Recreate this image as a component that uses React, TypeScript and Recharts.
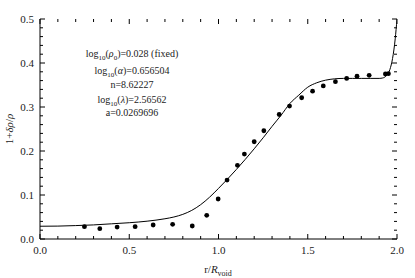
import React from 'react';
import { ComposedChart, Line, Scatter, XAxis, YAxis, ReferenceLine } from 'recharts';

const fitR = [0, 0.1, 0.2, 0.3, 0.4, 0.5, 0.6, 0.7, 0.75, 0.8, 0.85, 0.9, 0.95, 1.0, 1.05, 1.1, 1.15, 1.2, 1.25, 1.3, 1.35, 1.4, 1.45, 1.5, 1.55, 1.6, 1.65, 1.7, 1.75, 1.8, 1.85, 1.9, 1.92, 1.94, 1.96, 1.975, 1.99, 2.0];
const fitV = [0.029, 0.0293, 0.0305, 0.032, 0.0345, 0.037, 0.0405, 0.046, 0.05, 0.056, 0.065, 0.078, 0.095, 0.115, 0.136, 0.158, 0.181, 0.205, 0.23, 0.256, 0.281, 0.308, 0.327, 0.345, 0.355, 0.361, 0.364, 0.365, 0.365, 0.365, 0.365, 0.365, 0.366, 0.371, 0.385, 0.41, 0.455, 0.5];

const obsR = [0.249, 0.335, 0.432, 0.533, 0.634, 0.743, 0.853, 0.934, 0.998, 1.048, 1.106, 1.145, 1.2, 1.254, 1.34, 1.398, 1.466, 1.527, 1.587, 1.655, 1.718, 1.776, 1.844, 1.935, 1.952];
const obsV = [0.028, 0.0234, 0.027, 0.028, 0.0318, 0.0334, 0.0295, 0.0538, 0.0909, 0.134, 0.1675, 0.193, 0.221, 0.246, 0.283, 0.302, 0.321, 0.336, 0.348, 0.3575, 0.365, 0.37, 0.372, 0.375, 0.3757];

const xMinorTicks = [0, 0.1, 0.2, 0.3, 0.4, 0.5, 0.6, 0.7, 0.8, 0.9, 1.0, 1.1, 1.2, 1.3, 1.4, 1.5, 1.6, 1.7, 1.8, 1.9, 2.0];
const xMajorTicks = [0, 0.5, 1.0, 1.5, 2.0];
const yMinorTicks = [0, 0.02, 0.04, 0.06, 0.08, 0.1, 0.12, 0.14, 0.16, 0.18, 0.2, 0.22, 0.24, 0.26, 0.28, 0.3, 0.32, 0.34, 0.36, 0.38, 0.4, 0.42, 0.44, 0.46, 0.48, 0.5];
const yMajorTicks = [0, 0.1, 0.2, 0.3, 0.4, 0.5];

const X_MIN = 0;
const X_MAX = 2;
const Y_MIN = 0;
const Y_MAX = 0.5;

const fitData = fitR.map((r, i) => ({ r, v: fitV[i] }));
const obsData = obsR.map((r, i) => ({ r, v: obsV[i] }));

const FONT = '"Liberation Serif", "Times New Roman", serif';
const AX = { stroke: '#000', strokeWidth: 1 };

// tick lengths converted to axis units (plot area is 357 x 220 px)
const X_UNIT_PER_PX = (X_MAX - X_MIN) / 357;
const Y_UNIT_PER_PX = (Y_MAX - Y_MIN) / 220;
const MAJOR_LEN = 5;
const MINOR_LEN = 3;
const isMajor = (v: number, step: number) => Math.abs(v / step - Math.round(v / step)) < 1e-6;

const BottomLabel = (props: any) => (
  <text x={props.x} y={props.y + 15} textAnchor="middle" fontSize={11} fontFamily={FONT} fill="#222">
    {Number(props.payload.value).toFixed(1)}
  </text>
);
const LeftLabel = (props: any) => (
  <text x={props.x - 6} y={props.y + 4} textAnchor="end" fontSize={11} fontFamily={FONT} fill="#222">
    {Number(props.payload.value).toFixed(1)}
  </text>
);

const Dot = (props: any) => <circle cx={props.cx} cy={props.cy} r={2.4} fill="#000" />;

export default function App() {
  const W = 415;
  const H = 278;
  const sub = { fontSize: 7 };
  const xCommon = { dataKey: 'r', type: 'number' as const, domain: [X_MIN, X_MAX], interval: 0 as const, axisLine: AX, allowDataOverflow: true };
  const yCommon = { type: 'number' as const, domain: [Y_MIN, Y_MAX], interval: 0 as const, axisLine: AX, allowDataOverflow: true };
  const tickLines: React.ReactNode[] = [];
  xMinorTicks.forEach((t) => {
    const len = (isMajor(t, 0.5) ? MAJOR_LEN : MINOR_LEN) * Y_UNIT_PER_PX;
    tickLines.push(<ReferenceLine key={'bx' + t} xAxisId="b" yAxisId="l" segment={[{ x: t, y: Y_MIN }, { x: t, y: Y_MIN + len }]} stroke="#000" strokeWidth={1} ifOverflow="visible" />);
    tickLines.push(<ReferenceLine key={'tx' + t} xAxisId="b" yAxisId="l" segment={[{ x: t, y: Y_MAX }, { x: t, y: Y_MAX - len }]} stroke="#000" strokeWidth={1} ifOverflow="visible" />);
  });
  yMinorTicks.forEach((t) => {
    const len = (isMajor(t, 0.1) ? MAJOR_LEN : MINOR_LEN) * X_UNIT_PER_PX;
    tickLines.push(<ReferenceLine key={'ly' + t} xAxisId="b" yAxisId="l" segment={[{ x: X_MIN, y: t }, { x: X_MIN + len, y: t }]} stroke="#000" strokeWidth={1} ifOverflow="visible" />);
    tickLines.push(<ReferenceLine key={'ry' + t} xAxisId="b" yAxisId="l" segment={[{ x: X_MAX, y: t }, { x: X_MAX - len, y: t }]} stroke="#000" strokeWidth={1} ifOverflow="visible" />);
  });
  return (
    <div style={{ position: 'absolute', left: 0, top: 0, width: W, height: H, background: '#fff' }}>
      <ComposedChart width={W} height={H} margin={{ top: 19, right: 18, bottom: 9, left: 10 }}>
        <XAxis xAxisId="b" {...xCommon} orientation="bottom" height={30} ticks={xMajorTicks} tickLine={false} tickSize={0} tickMargin={0} tick={BottomLabel} />
        <XAxis xAxisId="t" {...xCommon} orientation="top" height={0} ticks={xMajorTicks} tickLine={false} tick={false} />
        <YAxis yAxisId="l" {...yCommon} orientation="left" width={30} ticks={yMajorTicks} tickLine={false} tickSize={0} tickMargin={0} tick={LeftLabel} />
        <YAxis yAxisId="r" {...yCommon} orientation="right" width={0} ticks={yMajorTicks} tickLine={false} tick={false} />
        {tickLines}
        <Line xAxisId="b" yAxisId="l" data={fitData} dataKey="v" type="monotone" stroke="#000" strokeWidth={1} dot={false} activeDot={false} isAnimationActive={false} />
        <Scatter xAxisId="b" yAxisId="l" data={obsData} dataKey="v" shape={Dot} isAnimationActive={false} />
      </ComposedChart>
      <svg width={W} height={H} style={{ position: 'absolute', left: 0, top: 0, pointerEvents: 'none' }}>
        <g fontFamily={FONT} fontSize={10} fill="#222" textAnchor="middle">
          <text x={132} y={57}>
            log<tspan dy={2.5} style={sub}>10</tspan><tspan dy={-2.5}>(</tspan><tspan fontStyle="italic">ρ</tspan><tspan dy={2.5} style={sub}>0</tspan><tspan dy={-2.5}>)=0.028 (fixed)</tspan>
          </text>
          <text x={132} y={74}>
            log<tspan dy={2.5} style={sub}>10</tspan><tspan dy={-2.5}>(</tspan><tspan fontStyle="italic">α</tspan>)=0.656504
          </text>
          <text x={132} y={88}>n=8.62227</text>
          <text x={132} y={103}>
            log<tspan dy={2.5} style={sub}>10</tspan><tspan dy={-2.5}>(</tspan><tspan fontStyle="italic">λ</tspan>)=2.56562
          </text>
          <text x={132} y={116}>a=0.0269696</text>
        </g>
        <text x={218} y={273} textAnchor="middle" fontFamily={FONT} fontSize={11} fill="#222">
          r/<tspan fontStyle="italic">R</tspan><tspan dy={2.5} fontSize={8}>void</tspan>
        </text>
        <text transform="translate(13,129) rotate(-90)" textAnchor="middle" fontFamily={FONT} fontSize={11} fill="#222">
          1+<tspan fontStyle="italic">δρ</tspan>/<tspan fontStyle="italic">ρ</tspan>
        </text>
      </svg>
    </div>
  );
}
